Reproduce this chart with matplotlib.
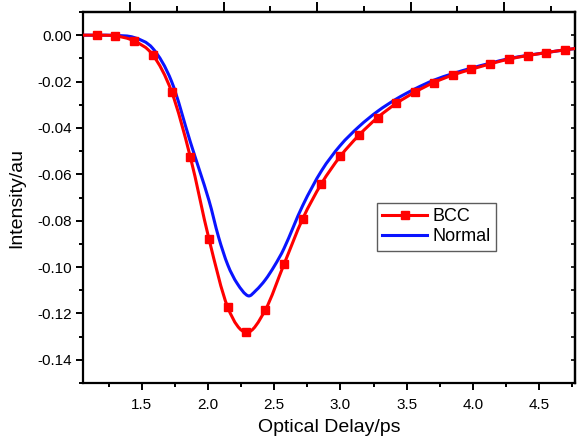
import matplotlib
matplotlib.use("Agg")
import matplotlib.pyplot as plt
from matplotlib.ticker import MultipleLocator, FixedLocator, NullFormatter, FormatStrFormatter
from matplotlib.path import Path
from matplotlib.patches import PathPatch
from matplotlib.lines import Line2D

plt.rcParams['font.family'] = ['Liberation Sans', 'DejaVu Sans']

# BCC markers
bcc_x = [1.019, 1.160, 1.301, 1.443, 1.584, 1.726, 1.867, 2.008, 2.150, 2.291, 2.433,
         2.574, 2.715, 2.857, 2.998, 3.140, 3.281, 3.422, 3.564, 3.705, 3.847,
         3.988, 4.129, 4.271, 4.412, 4.554, 4.695, 4.836]
bcc_y = [0.0, 0.0, -0.0003, -0.0025, -0.0085, -0.0244, -0.0525, -0.0879, -0.1174, -0.1282,
         -0.1185, -0.0988, -0.0792, -0.0640, -0.0523, -0.0431, -0.0355, -0.0294, -0.0245,
         -0.0204, -0.0172, -0.0147, -0.0124, -0.0103, -0.0088, -0.0075, -0.0063, -0.0053]

# Normal curve
norm_x = [1.019, 1.160, 1.301, 1.443, 1.584, 1.726, 1.867, 2.008, 2.080, 2.150, 2.220, 2.303,
          2.362, 2.433, 2.503, 2.574, 2.715, 2.857, 2.998, 3.140, 3.281, 3.422, 3.564,
          3.705, 3.847, 3.988, 4.129, 4.271, 4.412, 4.554, 4.695, 4.836]
norm_y = [0.0, 0.0, -0.0001, -0.0010, -0.0057, -0.0200, -0.0460, -0.0713, -0.0870, -0.0991,
          -0.1070, -0.1124, -0.1101, -0.1055, -0.0994, -0.0920, -0.0735, -0.0585, -0.0476,
          -0.0394, -0.0328, -0.0275, -0.0231, -0.0194, -0.0166, -0.0142, -0.0121, -0.0101,
          -0.0087, -0.0075, -0.0063, -0.0053]

top_major = [1.412, 2.118, 2.824, 3.530, 4.236]
top_minor = [1.765, 2.471, 3.177, 3.883, 4.589]

RED = '#ff0000'
BLUE = '#0a14ff'


def smooth_path(xs, ys):
    """Cubic Hermite curve through the points, expressed as Bezier segments."""
    n = len(xs)
    m = []
    for i in range(n):
        if i == 0:
            m.append((ys[1] - ys[0]) / (xs[1] - xs[0]))
        elif i == n - 1:
            m.append((ys[-1] - ys[-2]) / (xs[-1] - xs[-2]))
        else:
            m.append((ys[i + 1] - ys[i - 1]) / (xs[i + 1] - xs[i - 1]))
    verts = [(xs[0], ys[0])]
    codes = [Path.MOVETO]
    for i in range(n - 1):
        h = xs[i + 1] - xs[i]
        verts += [(xs[i] + h / 3, ys[i] + m[i] * h / 3),
                  (xs[i + 1] - h / 3, ys[i + 1] - m[i + 1] * h / 3),
                  (xs[i + 1], ys[i + 1])]
        codes += [Path.CURVE4] * 3
    return Path(verts, codes)


fig = plt.figure(figsize=(5.77, 4.37), dpi=100)
ax = fig.add_axes([0.1438, 0.1236, 0.8527, 0.8489])

ax.add_patch(PathPatch(smooth_path(norm_x, norm_y), facecolor='none', edgecolor=BLUE,
                       lw=2.2, zorder=2, capstyle='round', joinstyle='round'))
ax.add_patch(PathPatch(smooth_path(bcc_x, bcc_y), facecolor='none', edgecolor=RED,
                       lw=2.2, zorder=3, capstyle='round', joinstyle='round'))
ax.plot(bcc_x, bcc_y, color=RED, lw=0, marker='s', ms=5.5, zorder=4)

h1 = Line2D([], [], color=RED, lw=2.2, marker='s', ms=5.5)
h2 = Line2D([], [], color=BLUE, lw=2.2)
leg = ax.legend([h1, h2], ['BCC', 'Normal'], loc='upper left',
                bbox_to_anchor=(0.597, 0.485), fontsize=13, frameon=True,
                fancybox=False, edgecolor='#333333', handlelength=2.5,
                handletextpad=0.3, borderpad=0.3, labelspacing=0.15,
                borderaxespad=0.0)
leg.get_frame().set_linewidth(1.0)

ax.set_xlim(1.057, 4.77)
ax.set_ylim(-0.15, 0.01)
ax.xaxis.set_major_locator(MultipleLocator(0.5))
ax.xaxis.set_minor_locator(MultipleLocator(0.25))
ax.yaxis.set_major_locator(MultipleLocator(0.02))
ax.yaxis.set_minor_locator(MultipleLocator(0.01))
ax.yaxis.set_major_formatter(FormatStrFormatter('%.2f'))
ax.xaxis.set_major_formatter(FormatStrFormatter('%.1f'))

for s in ax.spines.values():
    s.set_linewidth(1.6)
ax.tick_params(axis='both', which='major', direction='out', length=5, width=1.4,
               labelsize=11)
ax.tick_params(axis='x', which='major', pad=6)
ax.tick_params(axis='y', which='major', pad=3)
ax.tick_params(axis='both', which='minor', direction='out', length=3, width=1.4)
ax.tick_params(top=False, right=False)

top = ax.secondary_xaxis('top')
top.xaxis.set_major_locator(FixedLocator(top_major))
top.xaxis.set_minor_locator(FixedLocator(top_minor))
top.xaxis.set_major_formatter(NullFormatter())
top.tick_params(which='major', direction='out', length=7, width=1.4)
top.tick_params(which='minor', direction='out', length=4, width=1.4)
top.spines['top'].set_linewidth(1.6)

right = ax.secondary_yaxis('right')
right.yaxis.set_major_locator(MultipleLocator(0.01))
right.yaxis.set_minor_locator(matplotlib.ticker.NullLocator())
right.yaxis.set_major_formatter(NullFormatter())
right.tick_params(which='major', direction='in', length=3, width=1.2)
right.spines['right'].set_linewidth(1.6)

ax.set_xlabel('Optical Delay/ps', fontsize=14, labelpad=5)
ax.set_ylabel('Intensity/au', fontsize=14)
ax.yaxis.set_label_coords(-0.118, 0.5)

fig.savefig('out.png', dpi=100)
